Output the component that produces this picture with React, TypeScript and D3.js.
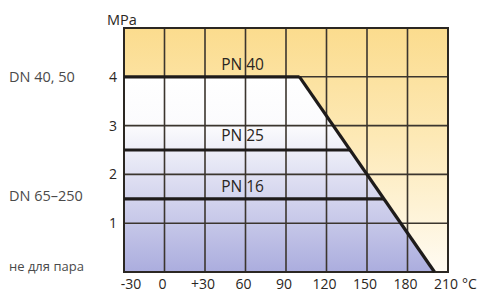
import React from "react";
import * as d3 from "d3";

const tempTicks = [-30, 0, 30, 60, 90, 120, 150, 180, 210];
const tempLabels = ["-30", "0", "+30", "60", "90", "120", "150", "180", "210"];
const pressureTicks = [1, 2, 3, 4];
const pnNames = ["PN 40", "PN 25", "PN 16"];
const pnPressures = [4, 2.5, 1.5];
const limitTemps = [100, 200];
const limitPressures = [4, 0];
const sideLabels = ["DN 40, 50", "DN 65–250", "не для пара"];
const sidePressures = [4, 1.55, 0.12];

const W = 486, H = 297;
const L = 124, R = 448, T = 28, B = 272;
const FONT = "'Open Sans', 'Noto Sans', sans-serif";

export default function App() {
  const x = d3.scaleLinear().domain([-30, 210]).range([L, R]);
  const y = d3.scaleLinear().domain([0, 5]).range([B, T]);
  const limitAt = (p: number) =>
    limitTemps[0] + ((limitPressures[0] - p) / (limitPressures[0] - limitPressures[1])) * (limitTemps[1] - limitTemps[0]);
  const line = d3.line<[number, number]>().x((d) => x(d[0])).y((d) => y(d[1]));
  const leftPoly: [number, number][] = [
    [-30, limitPressures[0]],
    [limitTemps[0], limitPressures[0]],
    [limitTemps[1], limitPressures[1]],
    [-30, 0],
  ];
  const grid = "#3b352e";
  const ink = "#2a2622";
  return (
    <div style={{ position: "absolute", left: 0, top: 0 }}>
      <svg width={W} height={H} style={{ display: "block", background: "#fff" }}>
        <defs>
          <linearGradient id="warm" gradientUnits="userSpaceOnUse" x1={0} y1={T} x2={0} y2={B}>
            <stop offset="0%" stopColor="#fbdc8e" />
            <stop offset="45%" stopColor="#fde9b6" />
            <stop offset="100%" stopColor="#fffbf2" />
          </linearGradient>
          <linearGradient id="cool" gradientUnits="userSpaceOnUse" x1={0} y1={y(4)} x2={0} y2={B}>
            <stop offset="0%" stopColor="#ffffff" />
            <stop offset="25%" stopColor="#fbfbfd" />
            <stop offset="100%" stopColor="#abadde" />
          </linearGradient>
        </defs>
        <rect x={L} y={T} width={R - L} height={B - T} fill="url(#warm)" />
        <path d={line(leftPoly) + "Z"} fill="url(#cool)" />
        {tempTicks.map((t) => (
          <line key={"v" + t} x1={x(t)} x2={x(t)} y1={T} y2={B} stroke={grid} strokeWidth={1.6} />
        ))}
        {pressureTicks.map((p) => (
          <line key={"h" + p} x1={L} x2={R} y1={y(p)} y2={y(p)} stroke={grid} strokeWidth={1.6} />
        ))}
        <rect x={L} y={T} width={R - L} height={B - T} fill="none" stroke="#2b2722" strokeWidth={2} />
        {pnPressures.map((p, i) => (
          <line key={"pn" + i} x1={x(-30)} x2={x(limitAt(p))} y1={y(p)} y2={y(p)} stroke="#1e1b1a" strokeWidth={3.2} />
        ))}
        <path
          d={line(limitTemps.map((t, i) => [t, limitPressures[i]] as [number, number])) || ""}
          stroke="#1e1b1a"
          strokeWidth={3.2}
          fill="none"
        />
        {pnNames.map((n, i) => (
          <text key={n} x={x(42)} y={y(pnPressures[i]) - (i === 1 ? 9 : 7)} fontFamily={FONT} fontSize={15.5} fill={ink}>
            {n}
          </text>
        ))}
        {pressureTicks.map((p) => (
          <text key={"yl" + p} x={117} y={y(p)} dy="0.35em" textAnchor="end" fontFamily={FONT} fontSize={14} fill={ink}>
            {p}
          </text>
        ))}
        <text x={107} y={25} fontFamily={FONT} fontSize={14.5} fill={ink}>MPa</text>
        {tempTicks.map((t, i) => (
          <text
            key={"xl" + t}
            x={x(t) + (i === 0 ? 7 : -2)}
            y={289}
            textAnchor="middle"
            fontFamily={FONT}
            fontSize={14}
            fill={ink}
          >
            {tempLabels[i]}
          </text>
        ))}
        <text x={462} y={289} fontFamily={FONT} fontSize={14} fill={ink}>°C</text>
        {sideLabels.map((s, i) => (
          <text
            key={s}
            x={9}
            y={y(sidePressures[i])}
            dy="0.35em"
            fontFamily={FONT}
            fontSize={i === 2 ? 13 : 14.5}
            fill="#4a4a4a"
          >
            {s}
          </text>
        ))}
      </svg>
    </div>
  );
}
